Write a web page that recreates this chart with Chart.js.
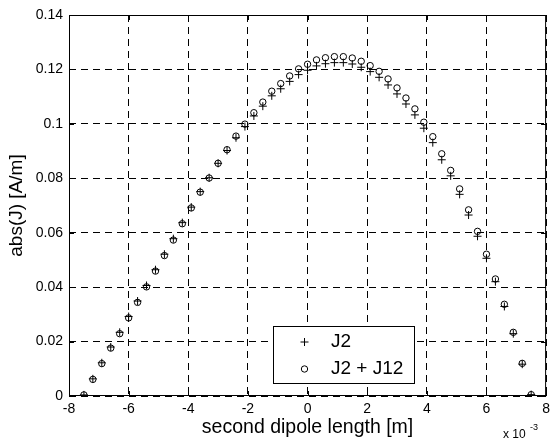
<!DOCTYPE html>
<html>
<head>
<meta charset="utf-8">
<script src="https://cdn.jsdelivr.net/npm/chart.js@4"></script>
<style>
  html, body { margin: 0; padding: 0; background: #fff; }
  #wrap { width: 555px; height: 441px; }
</style>
</head>
<body>
<div id="wrap"><canvas id="dipoleChart" width="555" height="441"></canvas></div>
<script>
// second dipole length, in units of 1e-3 m
const lengths = [
  -7.5, -7.2, -6.9, -6.6, -6.3, -6.0, -5.7, -5.4, -5.1, -4.8, -4.5, -4.2, -3.9,
  -3.6, -3.3, -3.0, -2.7, -2.4, -2.1, -1.8, -1.5, -1.2, -0.9, -0.6, -0.3, 0.0,
  0.3, 0.6, 0.9, 1.2, 1.5, 1.8, 2.1, 2.4, 2.7, 3.0, 3.3, 3.6, 3.9, 4.2,
  4.5, 4.8, 5.1, 5.4, 5.7, 6.0, 6.3, 6.6, 6.9, 7.2, 7.5
];
const j2 = [
  0.0004, 0.0063, 0.0122, 0.0180, 0.0234, 0.0292, 0.0349, 0.0406, 0.0464, 0.0521, 0.0578, 0.0637, 0.0694,
  0.0751, 0.0802, 0.0855, 0.0902, 0.0949, 0.0990, 0.1029, 0.1065, 0.1103, 0.1129, 0.1156, 0.1181, 0.1197,
  0.1213, 0.1221, 0.1225, 0.1225, 0.1220, 0.1208, 0.1192, 0.1171, 0.1143, 0.1110, 0.1073, 0.1033, 0.0984, 0.0931,
  0.0868, 0.0809, 0.0741, 0.0665, 0.0587, 0.0506, 0.0420, 0.0329, 0.0229, 0.0117, 0.0005
];
const j2j12 = [
  0.0004, 0.0061, 0.0119, 0.0176, 0.0229, 0.0287, 0.0344, 0.0401, 0.0459, 0.0516, 0.0573, 0.0633, 0.0691,
  0.0749, 0.0801, 0.0855, 0.0905, 0.0955, 0.0999, 0.1041, 0.1080, 0.1120, 0.1148, 0.1176, 0.1202, 0.1219,
  0.1235, 0.1243, 0.1247, 0.1247, 0.1242, 0.1230, 0.1214, 0.1193, 0.1165, 0.1132, 0.1095, 0.1055, 0.1006, 0.0953,
  0.0890, 0.0829, 0.0761, 0.0684, 0.0605, 0.0521, 0.0430, 0.0337, 0.0234, 0.0120, 0.0005
];
const seriesNames = ['J2', 'J2 + J12'];
const xTicks = [-8, -6, -4, -2, 0, 2, 4, 6, 8];
const yTicks = [0, 0.02, 0.04, 0.06, 0.08, 0.1, 0.12, 0.14];

const FONT = '"Liberation Sans", Arial, Helvetica, sans-serif';
const toPoints = ys => ys.map((y, i) => ({ x: lengths[i], y: y }));

// box frame, inward tick marks, legend and the x 10^-3 note
const matlabLook = {
  id: 'matlabLook',
  afterDraw(chart) {
    const { ctx, chartArea: a, scales } = chart;
    ctx.save();
    ctx.strokeStyle = '#000';
    ctx.lineWidth = 1;
    ctx.setLineDash([]);
    ctx.strokeRect(a.left + 0.5, a.top + 0.5, a.right - a.left - 1, a.bottom - a.top - 1);

    ctx.beginPath();
    xTicks.forEach(v => {
      const px = Math.round(scales.x.getPixelForValue(v)) + 0.5;
      ctx.moveTo(px, a.bottom); ctx.lineTo(px, a.bottom - 5);
      ctx.moveTo(px, a.top); ctx.lineTo(px, a.top + 5);
    });
    yTicks.forEach(v => {
      const py = Math.round(scales.y.getPixelForValue(v)) + 0.5;
      ctx.moveTo(a.left, py); ctx.lineTo(a.left + 5, py);
      ctx.moveTo(a.right, py); ctx.lineTo(a.right - 5, py);
    });
    ctx.stroke();

    // legend
    const bx = 273, by = 326, bw = 141, bh = 57;
    ctx.fillStyle = '#fff';
    ctx.fillRect(bx, by, bw, bh);
    ctx.strokeRect(bx + 0.5, by + 0.5, bw, bh);
    ctx.fillStyle = '#000';
    ctx.font = '19px ' + FONT;
    ctx.textBaseline = 'middle';
    ctx.textAlign = 'left';
    const rows = [342, 369];
    chart.data.datasets.forEach((ds, i) => {
      ctx.beginPath();
      if (ds.pointStyle === 'cross') {
        ctx.moveTo(300.5, rows[i]); ctx.lineTo(308.5, rows[i]);
        ctx.moveTo(304.5, rows[i] - 4); ctx.lineTo(304.5, rows[i] + 4);
      } else {
        ctx.arc(304.5, rows[i], 3.2, 0, Math.PI * 2);
      }
      ctx.stroke();
      ctx.fillText(ds.label, 331, rows[i]);
    });

    ctx.font = '12px ' + FONT;
    ctx.textBaseline = 'alphabetic';
    ctx.fillText('x 10', 503, 438);
    ctx.font = '9px ' + FONT;
    ctx.fillText('-3', 530, 430);
    ctx.restore();
  }
};

new Chart(document.getElementById('dipoleChart'), {
  type: 'scatter',
  data: {
    datasets: [
      {
        label: seriesNames[0],
        data: toPoints(j2),
        pointStyle: 'cross',
        pointRadius: 4,
        borderColor: '#000',
        borderWidth: 1,
        backgroundColor: 'rgba(0,0,0,0)',
        showLine: false
      },
      {
        label: seriesNames[1],
        data: toPoints(j2j12),
        pointStyle: 'circle',
        pointRadius: 3.2,
        borderColor: '#000',
        borderWidth: 1,
        backgroundColor: 'rgba(0,0,0,0)',
        showLine: false
      }
    ]
  },
  options: {
    responsive: false,
    animation: false,
    events: [],
    layout: { padding: { top: 15, right: 4, left: 0, bottom: 0 } },
    plugins: { legend: { display: false }, tooltip: { enabled: false } },
    scales: {
      x: {
        type: 'linear',
        min: -8,
        max: 8,
        afterFit: s => { s.height = 45; },
        afterBuildTicks: s => { s.ticks = xTicks.map(v => ({ value: v })); },
        ticks: { color: '#000', padding: 5, font: { family: FONT, size: 14 }, callback: v => String(v) },
        grid: { color: '#000', lineWidth: 1, drawTicks: false },
        border: { display: false, color: '#000', dash: [7, 5] },
        title: {
          display: true,
          text: 'second dipole length [m]',
          color: '#000',
          font: { family: FONT, size: 19.5 },
          padding: { top: 0, bottom: 2 }
        }
      },
      y: {
        type: 'linear',
        min: 0,
        max: 0.14,
        afterFit: s => { s.width = 69; },
        afterBuildTicks: s => { s.ticks = yTicks.map(v => ({ value: v })); },
        ticks: { color: '#000', padding: 6, font: { family: FONT, size: 14 }, callback: v => String(+v.toFixed(2)) },
        grid: { color: '#000', lineWidth: 1, drawTicks: false },
        border: { display: false, color: '#000', dash: [7, 5] },
        title: {
          display: true,
          text: 'abs(J) [A/m]',
          color: '#000',
          font: { family: FONT, size: 19 },
          padding: { top: 5, bottom: 0 }
        }
      }
    }
  },
  plugins: [matlabLook]
});
</script>
</body>
</html>
